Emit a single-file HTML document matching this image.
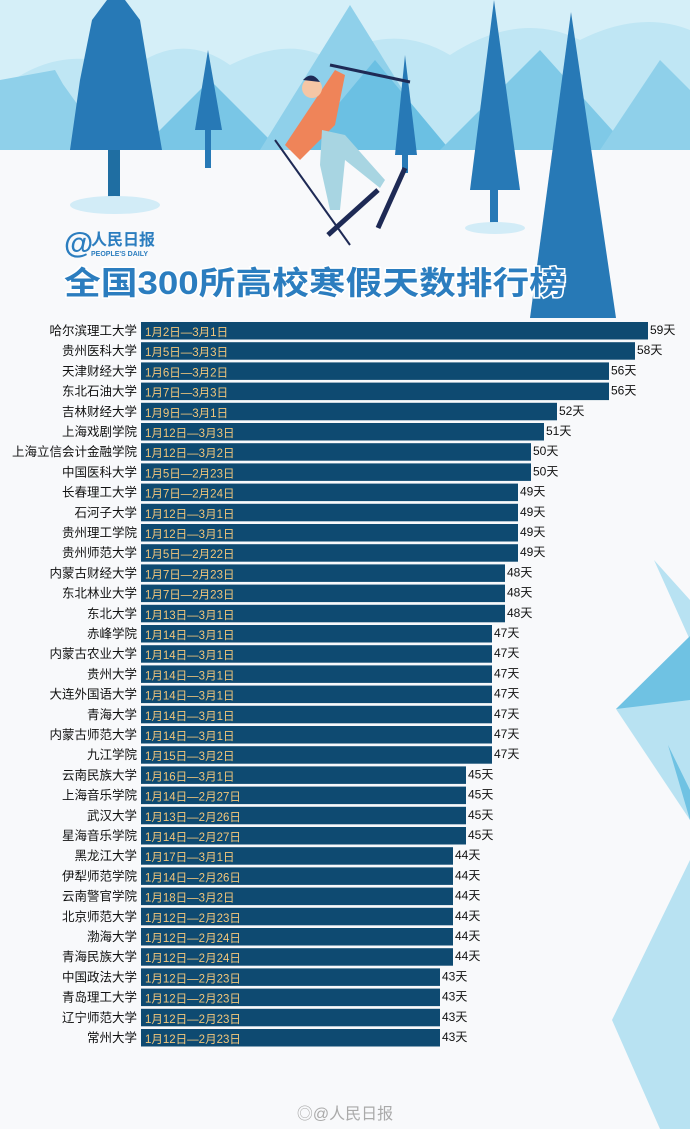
<!DOCTYPE html>
<html><head><meta charset="utf-8"><style>
body{margin:0;background:#f8f9fb;}
svg{display:block}
text{font-family:"Liberation Sans","Noto Sans CJK SC",sans-serif}
</style></head><body>
<svg width="690" height="1129" viewBox="0 0 690 1129" xmlns="http://www.w3.org/2000/svg">
<rect width="690" height="1129" fill="#f8f9fb"/>
<rect width="690" height="150" fill="#bfe6f4"/>
<path d="M0 90 Q60 40 130 70 Q180 30 230 65 Q290 35 330 60 Q390 20 450 55 Q520 10 580 40 Q640 10 690 30 L690 0 L0 0Z" fill="#d5eff8"/>
<path d="M0 150 L0 80 L55 70 L100 150Z M20 150 L60 80 L110 150Z" fill="#8fd0ea"/>
<path d="M140 150 L210 80 L280 150Z" fill="#79c6e6"/>
<path d="M260 150 L350 5 L440 150Z" fill="#8fd0ea"/>
<path d="M300 150 L375 60 L450 150Z" fill="#6bc0e3"/>
<path d="M440 150 L540 50 L630 150Z" fill="#7fc9e7"/>
<path d="M600 150 L660 60 L690 90 L690 150Z" fill="#8fd0ea"/>
<rect y="150" width="690" height="162" fill="#f8f9fb"/>
<g fill="#2779b6">
<path d="M92 20 L140 20 L125 0 L107 0Z M70 150 L162 150 L150 80 L140 20 L92 20 L80 80Z"/>
<rect x="108" y="150" width="12" height="55" fill="#1f6ea2"/>
<path d="M208 50 L195 130 L222 130Z"/><rect x="205" y="128" width="6" height="40"/>
<path d="M405 55 L395 155 L417 155Z"/><rect x="402" y="153" width="6" height="20"/>
<path d="M494 0 L470 190 L520 190Z"/><rect x="490" y="188" width="8" height="40"/>
<path d="M571 12 L530 318 L616 318Z"/>
</g>
<ellipse cx="115" cy="205" rx="45" ry="9" fill="#d2ecf7"/>
<ellipse cx="495" cy="228" rx="30" ry="6" fill="#d2ecf7"/>
<g>
<line x1="330" y1="65" x2="410" y2="82" stroke="#1e2a55" stroke-width="3"/>
<line x1="275" y1="140" x2="350" y2="245" stroke="#1e2a55" stroke-width="2"/>
<path d="M335 70 L345 75 L335 125 L300 160 L285 145 Z" fill="#ef8459"/>
<path d="M322 130 L345 135 L385 180 L380 188 L345 160 L340 210 L330 210 L320 165Z" fill="#a8d5e2"/>
<circle cx="312" cy="88" r="10" fill="#f5c6a5"/>
<path d="M303 80 Q312 70 320 82Z" fill="#1e2a55"/>
<line x1="328" y1="235" x2="378" y2="190" stroke="#1e2a55" stroke-width="5"/>
<line x1="378" y1="228" x2="405" y2="168" stroke="#1e2a55" stroke-width="5"/>
</g>
<text x="64" y="253" font-size="30" font-weight="bold" fill="#2b7dbf">@</text>
<text x="91" y="245" font-size="16" font-weight="bold" fill="#2b7dbf">人民日报</text>
<text x="91" y="256" font-size="7" font-weight="bold" fill="#2b7dbf">PEOPLE'S DAILY</text>
<text x="64" y="294" font-size="32" font-weight="bold" fill="#2b7dbf" stroke="#ffffff" stroke-width="3" paint-order="stroke" textLength="502" lengthAdjust="spacingAndGlyphs">全国300所高校寒假天数排行榜</text>
<path d="M654 560 L690 600 L690 1129 L660 1129 L612 1020 L690 860 L690 820 L616 709 L690 640Z" fill="#b8e2f2"/>
<path d="M616 709 L690 636 L690 700Z" fill="#6fc2e3"/>
<path d="M668 745 L690 820 L690 790Z" fill="#6fc2e3"/>
<g id="bars"></g>
<text x="345" y="1119" font-size="16" fill="#aaa" text-anchor="middle">◎@人民日报</text>
</svg>
<script>
var d=[["哈尔滨理工大学","1月2日—3月1日",59],["贵州医科大学","1月5日—3月3日",58],["天津财经大学","1月6日—3月2日",56],["东北石油大学","1月7日—3月3日",56],["吉林财经大学","1月9日—3月1日",52],["上海戏剧学院","1月12日—3月3日",51],["上海立信会计金融学院","1月12日—3月2日",50],["中国医科大学","1月5日—2月23日",50],["长春理工大学","1月7日—2月24日",49],["石河子大学","1月12日—3月1日",49],["贵州理工学院","1月12日—3月1日",49],["贵州师范大学","1月5日—2月22日",49],["内蒙古财经大学","1月7日—2月23日",48],["东北林业大学","1月7日—2月23日",48],["东北大学","1月13日—3月1日",48],["赤峰学院","1月14日—3月1日",47],["内蒙古农业大学","1月14日—3月1日",47],["贵州大学","1月14日—3月1日",47],["大连外国语大学","1月14日—3月1日",47],["青海大学","1月14日—3月1日",47],["内蒙古师范大学","1月14日—3月1日",47],["九江学院","1月15日—3月2日",47],["云南民族大学","1月16日—3月1日",45],["上海音乐学院","1月14日—2月27日",45],["武汉大学","1月13日—2月26日",45],["星海音乐学院","1月14日—2月27日",45],["黑龙江大学","1月17日—3月1日",44],["伊犁师范学院","1月14日—2月26日",44],["云南警官学院","1月18日—3月2日",44],["北京师范大学","1月12日—2月23日",44],["渤海大学","1月12日—2月24日",44],["青海民族大学","1月12日—2月24日",44],["中国政法大学","1月12日—2月23日",43],["青岛理工大学","1月12日—2月23日",43],["辽宁师范大学","1月12日—2月23日",43],["常州大学","1月12日—2月23日",43]];
var ns="http://www.w3.org/2000/svg",g=document.getElementById("bars");
function el(t,a,s){var e=document.createElementNS(ns,t);for(var k in a)e.setAttribute(k,a[k]);if(s)e.textContent=s;g.appendChild(e);}
d.forEach(function(r,i){var y=322+i*20.2,w=13*(r[2]-20);
el("rect",{x:141,y:y,width:w,height:17.5,fill:"#0e4a71"});
el("text",{x:137,y:y+13,"font-size":12.5,"text-anchor":"end",fill:"#111"},r[0]);
el("text",{x:145,y:y+14,"font-size":11.5,fill:"#f2c77c"},r[1]);
el("text",{x:143+w,y:y+12,"font-size":12,fill:"#111"},r[2]+"天");});
</script>
</body></html>
